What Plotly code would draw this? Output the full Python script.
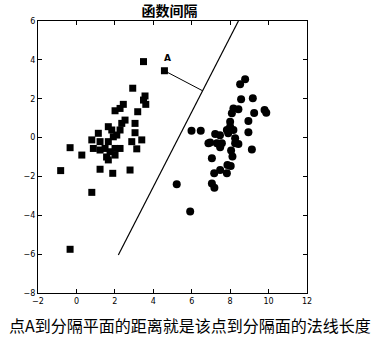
import plotly.graph_objects as go
import numpy as np

# Class -1 (squares)
sq_x = [3.49, 2.93, 3.57, 3.49, 3.61, 2.44, 2.27, 2.01, 3.19, 2.53, 2.36, 3.05, 1.66, 1.84,
        1.14, 3.05, 2.27, 2.10, 0.80, 1.23, 1.66, 1.92, 2.88, 3.40, -0.33, 0.28, 0.88, 1.23,
        1.49, 1.75, 2.01, 2.27, 3.14, 1.66, 2.01, 1.57, -0.82, 1.23, 1.89, 2.79, 0.80, -0.33]
sq_y = [3.91, 2.54, 2.14, 1.93, 1.71, 1.71, 1.50, 1.38, 1.33, 0.90, 0.73, 0.73, 0.56, 0.39,
        0.22, 0.25, 0.39, 0.13, -0.12, -0.21, -0.21, 0.04, -0.21, -0.12, -0.52, -0.90, -0.56, -0.64,
        -0.56, -0.73, -0.56, -0.56, -0.58, -1.15, -0.90, -1.00, -1.70, -1.63, -1.84, -1.67, -2.82, -5.75]

# Class +1 (circles)
ci_x = [8.78, 8.52, 8.57, 9.18, 8.17, 8.43, 8.09, 9.25, 9.79, 9.88, 8.95, 8.00, 8.00, 8.17,
        7.83, 7.90, 5.99, 6.47, 7.22, 7.47, 8.95, 8.26, 6.96, 7.31, 7.48, 8.43, 9.13, 6.87,
        7.57, 8.26, 8.05, 8.12, 7.05, 7.86, 8.03, 7.48, 7.17, 7.83, 5.22, 7.05, 7.18, 5.92]
ci_y = [3.00, 2.74, 1.97, 2.02, 1.50, 1.46, 1.25, 1.26, 1.42, 1.28, 0.85, 0.82, 0.56, 0.39,
        0.39, 0.22, 0.35, 0.35, 0.18, 0.12, 0.27, -0.04, -0.26, -0.29, -0.50, -0.33, -0.62, -0.29,
        -0.29, -0.29, -0.67, -0.98, -1.07, -1.41, -1.46, -1.67, -1.84, -1.84, -2.40, -2.36, -2.58, -3.81]

# Point A
a_x = [4.58]
a_y = [3.44]

# Separating line endpoints
line_x = [2.18, 8.43]
line_y = [-6.04, 6.0]

x_ticks = [-2, 0, 2, 4, 6, 8, 10, 12]
y_ticks = [-8, -6, -4, -2, 0, 2, 4, 6]

# foot of perpendicular from A to the line
p0 = np.array([line_x[0], line_y[0]])
d = np.array([line_x[1] - line_x[0], line_y[1] - line_y[0]])
d = d / np.linalg.norm(d)
a = np.array([a_x[0], a_y[0]])
foot = p0 + np.dot(a - p0, d) * d

fig = go.Figure()
fig.add_trace(go.Scatter(x=sq_x + a_x, y=sq_y + a_y, mode="markers",
                         marker=dict(symbol="square", size=7, color="black"), showlegend=False))
fig.add_trace(go.Scatter(x=ci_x, y=ci_y, mode="markers",
                         marker=dict(symbol="circle", size=8, color="black"), showlegend=False))
fig.add_trace(go.Scatter(x=line_x, y=line_y, mode="lines",
                         line=dict(color="black", width=1.2), showlegend=False))
fig.add_trace(go.Scatter(x=[a_x[0], foot[0]], y=[a_y[0], foot[1]], mode="lines",
                         line=dict(color="black", width=1), showlegend=False))

fig.add_annotation(x=a_x[0], y=a_y[0], text="<b>A</b>", showarrow=False,
                   xshift=3, yshift=13, font=dict(size=9, color="black", family="DejaVu Sans"))

axis_common = dict(showgrid=False, zeroline=False, showline=True, linecolor="black", linewidth=1,
                   mirror="ticks", ticks="inside", ticklen=4, tickcolor="black",
                   tickfont=dict(size=8, color="black", family="DejaVu Sans"))
fig.update_xaxes(range=[-2, 12], tickvals=x_ticks, **axis_common)
fig.update_yaxes(range=[-8, 6], tickvals=y_ticks, **axis_common)

fig.update_layout(
    width=383, height=340,
    margin=dict(l=38, r=76, t=21, b=47),
    plot_bgcolor="white", paper_bgcolor="white",
    title=dict(text="<b>函数间隔</b>", x=(169.5) / 383, xanchor="center", y=1 - 11 / 340, yanchor="middle",
               font=dict(size=14, color="black", family="Noto Sans CJK SC")),
)
fig.add_annotation(xref="paper", yref="paper", x=(190 - 38) / (307 - 38), y=-(325 - 293) / (293 - 21),
                   xanchor="center", yanchor="middle", showarrow=False,
                   text="点A到分隔平面的距离就是该点到分隔面的法线长度",
                   font=dict(size=16, color="black", family="Noto Sans CJK SC"))

fig.write_html("out.html")
